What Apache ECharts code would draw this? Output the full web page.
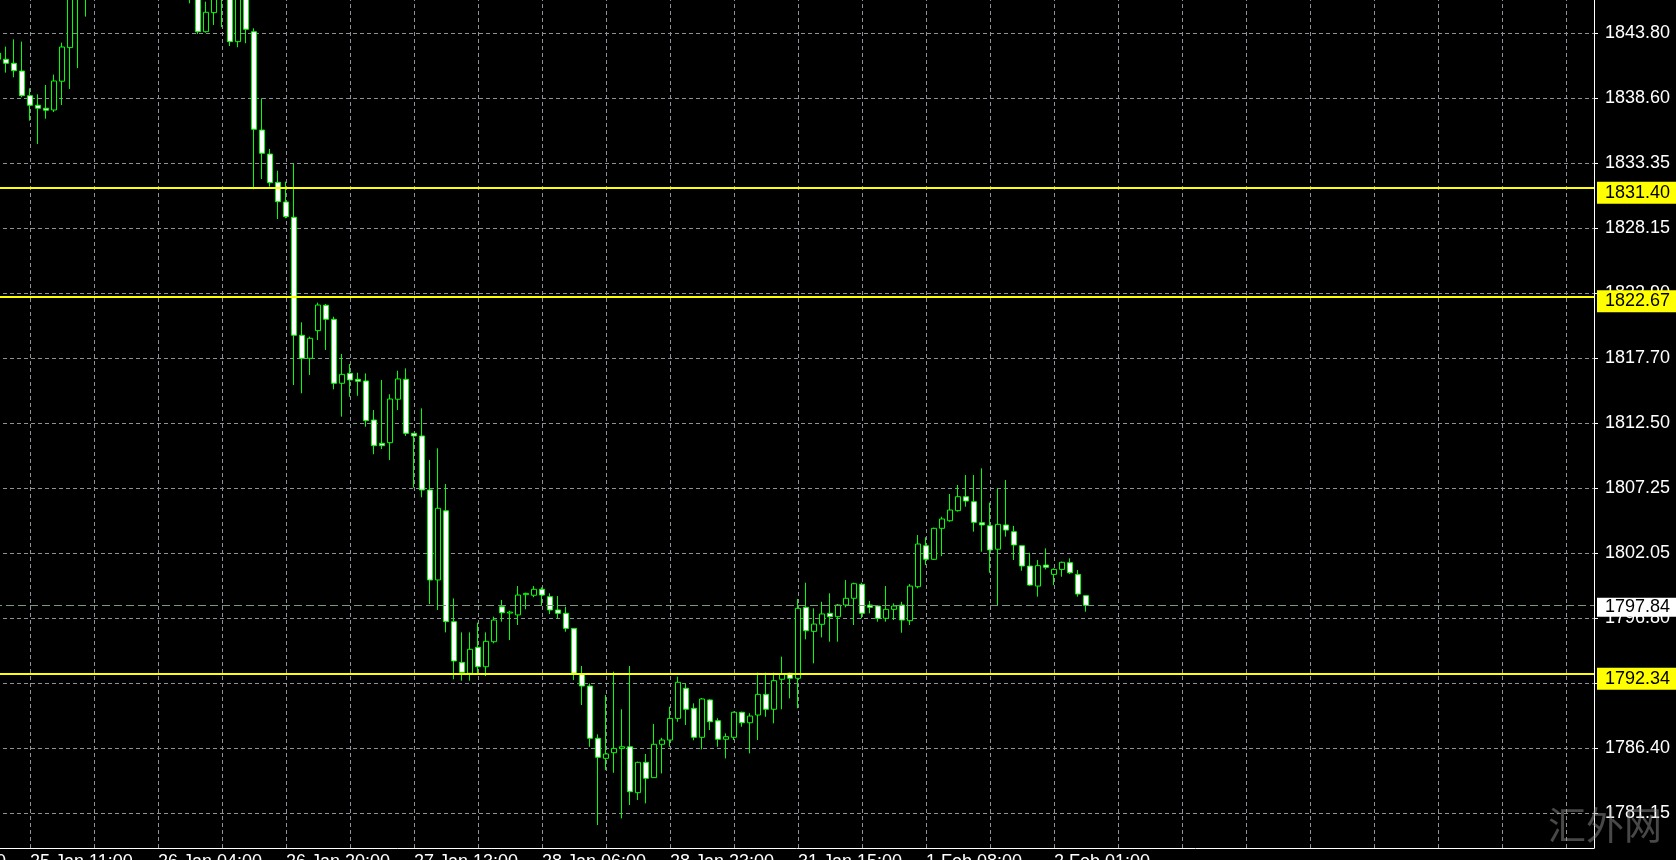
<!DOCTYPE html>
<html>
<head>
<meta charset="utf-8">
<title>XAUUSD H1</title>
<script src="https://cdn.jsdelivr.net/npm/echarts@6/dist/echarts.min.js"></script>
<style>
  html, body { margin: 0; padding: 0; background: #000; }
  #chart { width: 1676px; height: 860px; }
</style>
</head>
<body>
<div id="chart"></div>
<script>
// H1 bars, oldest first. The first one is cut by the left edge,
// bars 9..30 run above the top of the window.
const open = [
  1842.20, 1841.71, 1841.39, 1840.77, 1838.79, 1838.02, 1837.78, 1837.64, 1839.95, 1842.65,
  1848.60, 1847.00, 1848.20, 1849.50, 1850.80, 1850.10, 1851.30, 1850.60, 1849.40, 1850.20,
  1849.10, 1848.40, 1849.00, 1848.10, 1847.90, 1848.60, 1843.93, 1845.46, 1847.40, 1848.50,
  1843.13, 1847.60, 1843.93, 1836.03, 1834.10, 1831.83, 1830.25, 1829.02, 1819.54, 1817.69,
  1819.91, 1821.95, 1820.82, 1815.68, 1816.48, 1816.00, 1815.87, 1812.73, 1810.86, 1810.91,
  1814.40, 1816.00, 1811.66, 1811.45, 1807.11, 1799.88, 1805.44, 1796.53, 1793.26, 1792.38,
  1794.47, 1792.91, 1794.92, 1797.73, 1797.22, 1797.07, 1798.70, 1798.65, 1799.13, 1798.54,
  1797.47, 1797.20, 1795.99, 1792.32, 1791.36, 1787.16, 1785.55, 1786.00, 1786.35, 1786.48,
  1782.79, 1785.23, 1784.00, 1786.68, 1787.02, 1788.76, 1791.18, 1789.57, 1787.24, 1790.24,
  1788.57, 1787.08, 1787.24, 1789.25, 1788.41, 1789.03, 1790.69, 1789.49, 1791.90, 1792.38,
  1791.98, 1797.68, 1795.75, 1796.32, 1797.20, 1796.93, 1797.87, 1798.41, 1799.53, 1797.87,
  1797.79, 1796.80, 1797.52, 1797.87, 1796.61, 1799.34, 1802.63, 1801.54, 1804.03, 1804.64,
  1805.45, 1806.57, 1806.17, 1804.48, 1804.24, 1802.35, 1804.30, 1803.76, 1802.63, 1801.00,
  1799.39, 1801.08, 1800.33, 1800.73, 1801.27, 1800.33, 1798.62
];
const close = [
  1841.72, 1841.39, 1840.80, 1838.79, 1838.02, 1837.78, 1837.62, 1839.97, 1842.70, 1847.20,
  1847.00, 1848.20, 1849.50, 1850.80, 1850.10, 1851.30, 1850.60, 1849.40, 1850.20, 1849.10,
  1848.40, 1849.00, 1848.10, 1847.90, 1848.60, 1843.93, 1845.49, 1847.40, 1848.50, 1843.13,
  1847.60, 1844.12, 1836.09, 1834.16, 1831.80, 1830.27, 1829.07, 1819.54, 1817.69, 1819.30,
  1821.97, 1820.82, 1815.68, 1816.40, 1815.95, 1815.84, 1812.68, 1810.67, 1810.67, 1814.42,
  1816.03, 1811.66, 1811.45, 1807.11, 1799.88, 1805.64, 1796.53, 1793.37, 1792.46, 1794.31,
  1792.91, 1794.95, 1796.66, 1797.25, 1797.30, 1798.67, 1798.80, 1799.13, 1798.67, 1797.47,
  1797.20, 1795.99, 1792.38, 1791.36, 1787.16, 1785.63, 1785.90, 1786.35, 1786.48, 1782.87,
  1785.23, 1783.94, 1786.68, 1787.02, 1788.76, 1791.66, 1789.49, 1787.24, 1790.32, 1788.49,
  1787.08, 1787.29, 1789.25, 1788.41, 1788.95, 1790.69, 1789.49, 1791.79, 1792.32, 1791.98,
  1797.60, 1795.80, 1796.34, 1797.15, 1796.93, 1797.87, 1798.41, 1799.58, 1797.20, 1797.68,
  1796.80, 1797.52, 1797.79, 1796.66, 1799.39, 1802.77, 1801.54, 1804.03, 1804.78, 1805.50,
  1806.57, 1806.22, 1804.51, 1804.30, 1802.29, 1804.35, 1803.89, 1802.69, 1801.00, 1799.47,
  1801.03, 1800.90, 1800.73, 1801.30, 1800.46, 1798.75, 1797.84
];
const low = [
  1841.40, 1840.64, 1840.27, 1838.66, 1836.78, 1834.91, 1836.94, 1837.48, 1838.04, 1839.33,
  1841.00, 1845.14, 1847.40, 1848.80, 1849.20, 1849.60, 1849.80, 1848.60, 1848.70, 1848.30,
  1847.60, 1847.30, 1847.20, 1846.90, 1846.21, 1843.75, 1843.85, 1844.47, 1844.30, 1842.78,
  1842.68, 1843.00, 1831.27, 1832.09, 1831.48, 1828.88, 1828.94, 1815.54, 1814.88, 1816.35,
  1819.16, 1818.36, 1815.20, 1813.00, 1814.60, 1814.68, 1812.19, 1809.98, 1810.40, 1809.52,
  1813.53, 1811.45, 1807.30, 1806.52, 1797.95, 1797.47, 1795.67, 1791.90, 1791.79, 1791.79,
  1792.32, 1792.16, 1794.79, 1796.53, 1795.05, 1796.26, 1797.52, 1798.49, 1797.79, 1797.14,
  1796.80, 1795.72, 1791.84, 1789.83, 1786.48, 1780.19, 1784.61, 1784.39, 1780.73, 1781.80,
  1782.20, 1781.93, 1784.00, 1784.34, 1786.48, 1788.49, 1788.23, 1787.00, 1786.27, 1787.82,
  1786.48, 1785.55, 1787.02, 1788.09, 1785.95, 1787.02, 1788.89, 1788.36, 1789.49, 1790.37,
  1789.57, 1795.11, 1793.18, 1795.27, 1794.92, 1794.92, 1797.68, 1796.26, 1796.80, 1797.20,
  1796.53, 1796.53, 1796.66, 1795.64, 1796.26, 1799.21, 1801.08, 1801.48, 1801.80, 1804.56,
  1805.37, 1805.77, 1803.76, 1802.15, 1800.46, 1797.79, 1803.36, 1801.48, 1800.62, 1799.42,
  1798.54, 1800.73, 1799.47, 1800.14, 1800.36, 1798.54, 1797.33
];
const high = [
  1842.50, 1842.73, 1843.32, 1843.13, 1839.38, 1838.90, 1839.65, 1840.48, 1843.05, 1848.00,
  1849.20, 1849.00, 1850.30, 1851.60, 1851.90, 1852.40, 1852.00, 1851.10, 1850.90, 1850.80,
  1849.90, 1849.60, 1849.50, 1848.90, 1849.40, 1849.10, 1846.34, 1848.20, 1849.00, 1849.20,
  1848.30, 1848.00, 1844.20, 1838.58, 1834.51, 1832.76, 1831.88, 1833.36, 1820.58, 1819.43,
  1822.16, 1822.05, 1821.03, 1818.04, 1817.23, 1816.53, 1816.48, 1813.53, 1815.95, 1814.80,
  1816.69, 1816.88, 1811.68, 1813.67, 1809.52, 1810.46, 1807.59, 1798.40, 1795.67, 1795.67,
  1796.45, 1795.67, 1796.93, 1798.27, 1797.41, 1799.39, 1798.86, 1799.39, 1799.29, 1798.81,
  1798.59, 1797.73, 1795.99, 1792.97, 1791.57, 1787.48, 1790.64, 1792.51, 1789.49, 1792.97,
  1785.28, 1785.90, 1788.31, 1787.20, 1789.70, 1792.11, 1791.57, 1789.97, 1790.40, 1790.30,
  1788.77, 1787.56, 1789.30, 1789.30, 1789.17, 1792.43, 1792.43, 1792.43, 1793.72, 1792.43,
  1798.35, 1799.66, 1797.60, 1798.13, 1798.81, 1797.95, 1799.87, 1799.66, 1799.66, 1798.19,
  1797.79, 1799.39, 1798.00, 1798.13, 1799.55, 1803.49, 1803.31, 1804.08, 1804.96, 1806.79,
  1807.51, 1808.31, 1808.31, 1808.85, 1806.09, 1807.24, 1807.91, 1804.22, 1802.63, 1802.07,
  1801.48, 1802.42, 1800.81, 1801.35, 1801.62, 1800.68, 1798.67
];

// price scale levels printed on the right
const priceTicks = [1843.80, 1838.60, 1833.35, 1828.15, 1822.90, 1817.70, 1812.50,
                    1807.25, 1802.05, 1796.80, 1791.60, 1786.40, 1781.15];
// time scale, one label every 16 bars (first one sits off-screen to the left)
const timeLabels = ['24 Jan 18:00', '25 Jan 11:00', '26 Jan 04:00', '26 Jan 20:00', '27 Jan 13:00',
                    '28 Jan 06:00', '28 Jan 23:00', '31 Jan 15:00', '1 Feb 08:00', '2 Feb 01:00'];
// horizontal lines drawn on the chart
const levels = [1831.40, 1822.67, 1792.34];
const bid = 1797.84;

const LEAD = 12;        // empty slots before the first bar
const SLOTS = 212;      // bars + empty space up to the price scale
const LABEL_STEP = 16;
const GRID_STEP = 8;

const categories = Array.from({ length: SLOTS }, (_, i) => String(i));
const candles = categories.map((_, i) => {
  const j = i - LEAD;
  return j >= 0 && j < open.length ? [open[j], close[j], low[j], high[j]] : '-';
});

const isLabelSlot = (i) => i % LABEL_STEP === 0 && i / LABEL_STEP < timeLabels.length;
const gridColor = '#8e9296';
const font = 'Liberation Sans';

const gridLines = [
  ...priceTicks.map(v => ({ yAxis: v })),
  ...categories.filter((_, i) => i % GRID_STEP === 0).map(c => ({ xAxis: c }))
];

const boxLabel = (bg, offsetY, padding) => ({
  show: true,
  position: 'end',
  distance: 3,
  offset: [0, offsetY],
  formatter: p => Number(p.value).toFixed(2),
  color: '#000',
  backgroundColor: bg,
  fontFamily: font,
  fontSize: 18,
  lineHeight: 16,
  padding: padding
});

const priceLines = [
  ...levels.map(v => ({
    yAxis: v,
    lineStyle: { color: '#ffff00', width: 2, type: 'solid' },
    label: boxLabel('#ffff00', 5, [4, 12, 2, 8])
  })),
  {
    yAxis: bid,
    lineStyle: { color: '#789a78', width: 1, type: [8, 4] },
    label: boxLabel('#ffffff', 2, [2, 12, 1, 8])
  }
];

const chart = echarts.init(document.getElementById('chart'));

chart.setOption({
  backgroundColor: '#000',
  animation: false,
  grid: {
    left: -102, right: 82, top: 0, bottom: 12,
    containLabel: false,
    outerBoundsMode: 'none'
  },
  xAxis: {
    type: 'category',
    data: categories,
    boundaryGap: true,
    axisLine: { lineStyle: { color: '#fff', width: 1 } },
    axisTick: { alignWithLabel: true, interval: isLabelSlot, length: 4, lineStyle: { color: '#fff' } },
    axisLabel: {
      interval: isLabelSlot,
      align: 'left',
      color: '#fff',
      fontFamily: font,
      fontSize: 18,
      margin: 5,
      formatter: (v, i) => timeLabels[i / LABEL_STEP]
    },
    splitLine: { show: false }
  },
  yAxis: {
    type: 'value',
    position: 'right',
    min: 1778.346,
    max: 1846.476,
    axisLine: { show: true, lineStyle: { color: '#fff', width: 1 } },
    axisTick: { show: true, customValues: priceTicks, length: 4, lineStyle: { color: '#fff' } },
    axisLabel: {
      customValues: priceTicks,
      color: '#fff',
      fontFamily: font,
      fontSize: 18,
      margin: 11,
      formatter: v => v.toFixed(2)
    },
    splitLine: { show: false }
  },
  graphic: [{
    type: 'text',
    left: 1548,
    top: 806,
    z: 100,
    style: {
      text: '汇外网',
      fill: 'rgba(160,160,160,0.45)',
      font: '38px "Noto Sans CJK SC"'
    }
  }],
  series: [
    {
      name: 'grid',
      type: 'line',
      data: [],
      silent: true,
      markLine: {
        z: 1,
        silent: true,
        symbol: ['none', 'none'],
        label: { show: false },
        lineStyle: { color: gridColor, width: 1, type: [4, 3] },
        data: gridLines
      }
    },
    {
      name: 'XAUUSD',
      type: 'candlestick',
      z: 3,
      data: candles,
      barWidth: 5,
      itemStyle: {
        color: '#000000',
        color0: '#ffffff',
        borderColor: '#00ff00',
        borderColor0: '#00ff00',
        borderWidth: 1
      }
    },
    {
      name: 'levels',
      type: 'line',
      data: [],
      clip: false,
      silent: true,
      markLine: {
        z: 6,
        silent: true,
        symbol: ['none', 'none'],
        data: priceLines
      }
    }
  ]
});
</script>
</body>
</html>
